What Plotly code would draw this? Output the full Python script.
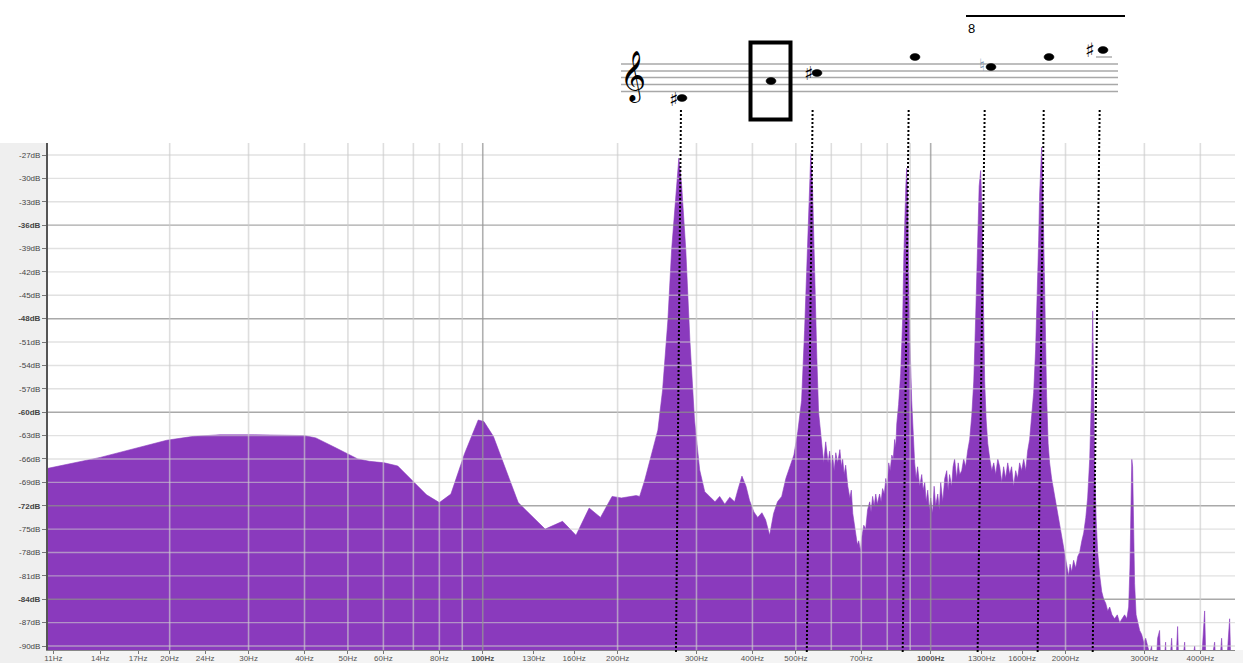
import plotly.graph_objects as go
import math

# ---------------- data ----------------
freq_hz = [
    10.7, 14, 19.7, 22.6, 25.9, 30.9, 40, 42.4, 46.7, 52.6, 55.8, 60.3, 64.6, 70, 74.9, 80, 84.9,
    91.1, 97.7, 100.6, 105.6, 120, 129.8, 137.8, 150.7, 161.5, 172.8, 183.2, 194.4, 204, 220,
    224, 230, 238, 246, 252, 259, 264, 270, 274, 278, 284, 290, 297, 305, 313, 321,
    330, 338, 347, 356, 365, 371, 379, 387, 394, 403, 411, 420, 428, 437, 446, 455, 465, 475,
    485, 495, 505, 515, 523, 529, 534, 540, 545, 551, 557, 562,
    571, 577, 583, 590, 595, 600, 604, 609, 614, 620, 627, 632, 636, 641, 646, 653, 660, 665,
    670, 675, 680, 686, 691, 697, 702, 709, 716, 723, 731, 736, 742, 748, 754, 760, 769, 775,
    781, 788, 794, 800, 806, 812, 819, 825, 831, 836, 840, 848, 857, 866, 871, 875, 880, 884,
    889, 893, 898, 907, 914, 921, 928, 935, 945, 955, 962, 970, 977, 985, 993, 1000, 1010,
    1018, 1026, 1037, 1045, 1053, 1064, 1075, 1086, 1094, 1102, 1114, 1122, 1131, 1143, 1152,
    1161, 1173, 1185, 1197, 1209, 1222, 1235, 1248, 1260, 1267, 1275, 1283, 1293, 1300, 1307,
    1315, 1320, 1330, 1341, 1355, 1369, 1383, 1397, 1412, 1426, 1441, 1455, 1470, 1486, 1501,
    1516, 1532, 1548, 1564, 1580, 1596, 1613, 1630, 1646, 1663, 1680, 1698, 1715, 1733, 1742,
    1751, 1760, 1769, 1778, 1790, 1805, 1815, 1829, 1843, 1862, 1882, 1901, 1921, 1941, 1961,
    1981, 2001, 2016, 2032, 2048, 2064, 2085, 2107, 2130, 2151, 2175, 2196, 2220, 2241, 2265,
    2285, 2300, 2312, 2324, 2342, 2360, 2385, 2409, 2434, 2459, 2485, 2510, 2540, 2575, 2610,
    2642, 2675, 2710, 2740, 2767, 2785, 2800, 2812, 2824, 2838, 2853, 2875, 2898, 2928, 2958,
    2990, 3020, 3050, 3082, 3114, 3162, 3211, 3244, 3278, 3346, 3381, 3451, 3505, 3559, 3596,
    3690, 3747, 3885, 3986, 4089, 4132, 4305, 4371, 4462, 4533, 4650, 4698, 4771, 5000,
]
level_db = [
    -67.2, -65.8, -63.6, -63.1, -62.9, -62.9, -63.0, -63.3, -64.5, -66.0, -66.3, -66.5, -66.9, -68.9, -70.6, -71.6, -70.5,
    -65.3, -61.0, -61.2, -63.1, -71.6, -73.6, -75.0, -74.0, -75.8, -72.3, -73.5, -70.8, -71.0, -70.7,
    -70.8, -68.7, -65.5, -62.3, -57.2, -48.2, -39.2, -31.5, -27.4, -30.9, -39.2, -50.7, -61.0, -67.4, -70.2, -70.8,
    -71.5, -70.8, -71.8, -70.9, -71.5, -70.0, -68.2, -69.5, -71.3, -72.8, -73.5, -72.9, -73.8, -75.8, -73.0, -71.5, -70.8, -68.5,
    -67.0, -65.5, -62.5, -58.5, -49.5, -40.5, -32.8, -26.8, -31.5, -44.0, -53.0, -60.0,
    -64.5, -66.5, -63.8, -66.5, -65.0, -67.0, -65.5, -67.5, -65.2, -66.5, -64.8, -67.0, -66.0, -68.0, -66.8, -69.5, -71.0, -70.0,
    -73.0, -74.5, -76.0, -77.0, -76.5, -77.8, -76.0, -74.5, -75.0, -72.5, -71.5, -72.8, -70.8, -72.0, -70.5, -71.8, -70.5, -71.5,
    -69.8, -70.5, -68.5, -69.5, -66.5, -67.5, -65.5, -66.0, -63.5, -64.5, -61.5, -59.0, -55.0, -48.0, -40.0, -35.0, -31.0, -28.7,
    -33.0, -42.0, -50.0, -58.5, -63.5, -66.5, -68.5, -67.0, -69.5, -68.0, -70.0, -69.0, -71.5, -70.0, -72.5, -71.0, -73.0,
    -69.5, -72.0, -70.5, -72.5, -69.0, -71.5, -68.5, -67.5, -70.0, -68.0, -69.5, -67.0, -66.0, -68.5, -66.5,
    -68.0, -67.5, -66.0, -67.0, -65.0, -63.5, -60.5, -56.0, -48.0, -42.0, -36.0, -31.0, -29.0, -33.0, -40.0,
    -50.0, -56.0, -61.0, -64.0, -66.0, -67.5, -66.5, -68.0, -66.0, -67.0, -69.0, -67.0, -68.5, -66.5, -68.0,
    -67.0, -69.5, -67.5, -68.5, -66.5, -67.5, -66.0, -67.5, -65.0, -63.5, -61.0, -57.5, -52.0, -44.0, -38.0,
    -32.0, -28.0, -26.0, -30.0, -40.0, -52.0, -58.0, -64.0, -66.5, -68.5, -70.0, -71.5, -73.0, -74.5, -76.0,
    -77.5, -79.0, -80.0, -81.0, -79.5, -80.5, -79.0, -80.0, -78.5, -78.0, -76.5, -75.5, -73.5, -71.0, -66.0,
    -58.0, -47.0, -58.0, -67.0, -74.0, -78.0, -81.0, -83.0, -84.0, -84.5, -85.5, -85.0, -86.0, -86.5, -86.0,
    -87.0, -86.5, -86.0, -86.5, -85.0, -80.0, -72.0, -66.0, -67.0, -76.0, -82.0, -86.0, -87.0, -88.0, -88.5,
    -89.5, -89.0, -90.0, -91.0, -90.0, -96.0, -89.0, -88.0, -96.0, -89.5, -96.0, -89.0, -96.0, -87.5, -96.0,
    -89.5, -96.0, -90.0, -96.0, -85.5, -96.0, -89.5, -96.0, -89.0, -96.0, -86.5, -96.0, -96.0, -96.0,
]

# dotted harmonic markers (bottom / top of each slanted dotted line)
marker_bottom_hz = [270, 529, 866, 1273, 1733, 2300]
marker_top_hz = [277, 545, 893, 1320, 1788, 2384]

x_tick_hz = [11, 14, 17, 20, 24, 30, 40, 50, 60, 80, 100, 130, 160, 200, 300, 400, 500, 700,
             1000, 1300, 1600, 2000, 3000, 4000]
x_bold_hz = [100, 1000]
x_grid_hz = [20, 30, 40, 50, 60, 70, 80, 90, 200, 300, 400, 500, 600, 700, 800, 900, 2000, 3000, 4000]
x_grid_major_hz = [100, 1000]

y_tick_db = list(range(-27, -91, -3))
y_major_db = [-36, -48, -60, -72, -84]

# ---------------- layout geometry ----------------
W, H = 1243, 663
L, R, T, B = 48, 8, 143, 13
PLOT_W = W - L - R
PLOT_H = H - T - B


def px(x):
    return (x - L) / PLOT_W


def py(y):
    return (H - B - y) / PLOT_H


PURPLE = "#8a3abd"

fig = go.Figure()
fig.add_trace(go.Scatter(x=[freq_hz[0], freq_hz[-1]], y=[-130, -130], mode="lines",
                         line=dict(width=0, color=PURPLE), hoverinfo="skip", showlegend=False))
fig.add_trace(go.Scatter(x=freq_hz, y=level_db, mode="lines", fill="tonexty",
                         fillcolor=PURPLE, line=dict(color=PURPLE, width=0.6),
                         showlegend=False))

shapes = []
# label backgrounds
shapes.append(dict(type="rect", xref="paper", yref="paper", x0=px(0), x1=px(L), y0=py(H), y1=py(T),
                   fillcolor="#efefef", line=dict(width=0), layer="below"))
shapes.append(dict(type="rect", xref="paper", yref="paper", x0=px(L), x1=px(W), y0=py(H), y1=py(H - B),
                   fillcolor="#f4f4f4", line=dict(width=0), layer="below"))

# grid lines (drawn over the fill, semi-transparent)
for d in y_tick_db:
    major = d in y_major_db
    shapes.append(dict(type="line", xref="paper", yref="y", x0=0, x1=1, y0=d, y1=d,
                       line=dict(color="rgba(140,140,140,0.75)" if major else "rgba(205,205,205,0.6)",
                                 width=1.4), layer="above"))
for f in x_grid_hz:
    shapes.append(dict(type="line", xref="x", yref="paper", x0=f, x1=f, y0=0, y1=1,
                       line=dict(color="rgba(205,205,205,0.65)", width=1.6), layer="above"))
for f in x_grid_major_hz:
    shapes.append(dict(type="line", xref="x", yref="paper", x0=f, x1=f, y0=0, y1=1,
                       line=dict(color="rgba(150,150,150,0.75)", width=1.6), layer="above"))

# dotted harmonic lines
for fb, ft in zip(marker_bottom_hz, marker_top_hz):
    shapes.append(dict(type="line", xref="x", yref="paper", x0=fb, x1=ft, y0=py(652), y1=py(110),
                       line=dict(color="black", width=2, dash="2px,2px"), layer="above"))

# staff lines
for sy in [64, 71, 77.5, 84.5, 91.5]:
    shapes.append(dict(type="line", xref="paper", yref="paper", x0=px(621), x1=px(1118),
                       y0=py(sy), y1=py(sy), line=dict(color="#a8a8a8", width=1.6)))
# ledger line under top note
shapes.append(dict(type="line", xref="paper", yref="paper", x0=px(1096), x1=px(1112),
                   y0=py(57), y1=py(57), line=dict(color="#a8a8a8", width=1.4)))

# note heads
for cx, cy in [(682, 98), (771, 81), (817, 73), (915, 57), (991, 67), (1049, 57), (1103, 50)]:
    shapes.append(dict(type="circle", xref="paper", yref="paper",
                       x0=px(cx - 5), x1=px(cx + 5), y0=py(cy + 3.5), y1=py(cy - 3.5),
                       fillcolor="black", line=dict(color="black", width=0.5)))

# highlight box
shapes.append(dict(type="rect", xref="paper", yref="paper", x0=px(750.5), x1=px(790.5),
                   y0=py(119.5), y1=py(42.5), line=dict(color="black", width=4)))
# 8va line
shapes.append(dict(type="line", xref="paper", yref="paper", x0=px(966), x1=px(1125),
                   y0=py(16), y1=py(16), line=dict(color="black", width=2)))

annotations = []


def ann(text, x, y, size, color="black", family="DejaVu Sans"):
    annotations.append(dict(text=text, xref="paper", yref="paper", x=px(x), y=py(y),
                            showarrow=False, xanchor="center", yanchor="middle",
                            font=dict(size=size, color=color, family=family)))


ann("𝄞", 633, 76, 44)
ann("♯", 673, 99, 19)
ann("♯", 808, 73, 19)
ann("♮", 982, 65, 17, color="#7894b0")
ann("<b>♯</b>", 1090, 50, 20)
ann("8", 971, 29, 13, family="Liberation Sans")

fig.update_layout(
    width=W, height=H,
    margin=dict(l=L, r=R, t=T, b=B, pad=0),
    paper_bgcolor="white", plot_bgcolor="white",
    showlegend=False,
    shapes=shapes, annotations=annotations,
    xaxis=dict(type="log", range=[math.log10(10.7), math.log10(4780)], showgrid=False, zeroline=False,
               tickmode="array", tickvals=x_tick_hz,
               ticktext=[("<b>%dHz</b>" % v) if v in x_bold_hz else "%dHz" % v for v in x_tick_hz],
               ticks="outside", ticklen=3, tickcolor="#777", tickwidth=1,
               ticklabelstandoff=-3,
               tickfont=dict(size=8, color="#555", family="Liberation Sans"),
               showline=True, linecolor="#888", linewidth=1, automargin=False),
    yaxis=dict(range=[-90.51, -25.46], showgrid=False, zeroline=False,
               tickmode="array", tickvals=y_tick_db,
               ticktext=[("<b>%ddB</b>" % v) if v in y_major_db else "%ddB" % v for v in y_tick_db],
               ticks="outside", ticklen=4, tickcolor="#777", tickwidth=1,
               tickfont=dict(size=8, color="#444", family="Liberation Sans"),
               showline=True, linecolor="#555", linewidth=2, automargin=False),
)

fig.write_html("out.html", config={"displayModeBar": False},
               post_script="document.body.style.margin='0';document.body.style.overflow='hidden';")
